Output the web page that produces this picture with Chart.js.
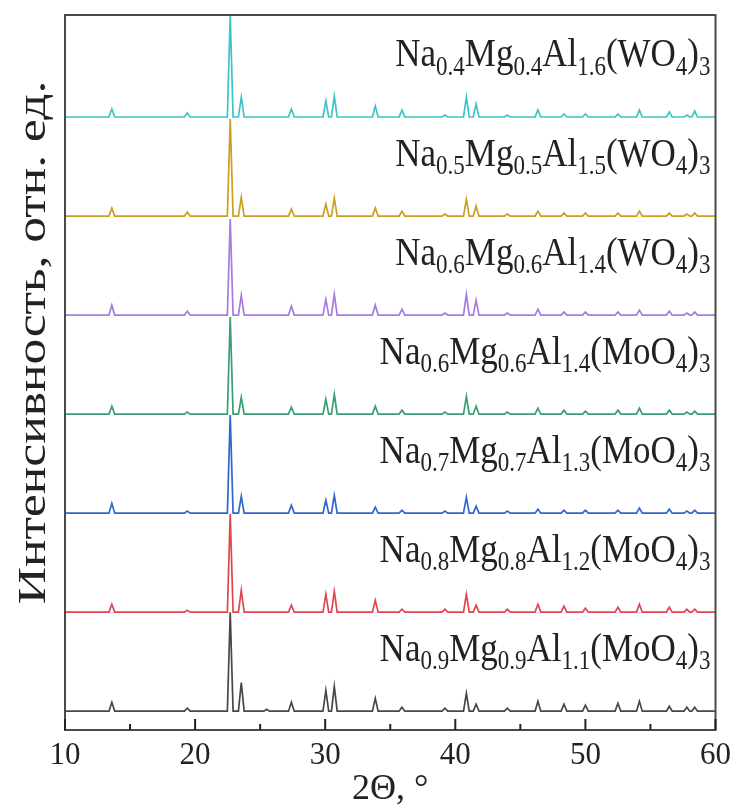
<!DOCTYPE html>
<html><head><meta charset="utf-8">
<script src="https://cdn.jsdelivr.net/npm/chart.js@4/dist/chart.umd.min.js"></script>
<style>html,body{margin:0;padding:0;background:#fff}#wrap{width:738px;height:811px}</style>
</head><body><div id="wrap"><canvas id="c" width="738" height="811"></canvas></div>
<script>
// 2θ positions of the reflections (deg)
const peakPositions = [13.6, 19.4, 22.7, 23.55, 25.5, 27.4, 30.05, 30.7, 33.85, 35.9, 39.2, 40.85, 41.6, 44.0, 46.35, 48.35, 50.0, 52.5, 54.15, 56.45, 57.8, 58.4];
// relative intensities (strongest = 1), bottom series first
const hNa09 = [0.09, 0.03, 1.00, 0.29, 0.02, 0.09, 0.21, 0.25, 0.13, 0.04, 0.03, 0.18, 0.07, 0.03, 0.10, 0.07, 0.06, 0.08, 0.10, 0.05, 0.04, 0.04];
const hNa08 = [0.08, 0.02, 0.99, 0.22, 0.00, 0.07, 0.18, 0.21, 0.12, 0.03, 0.03, 0.18, 0.07, 0.03, 0.08, 0.06, 0.04, 0.05, 0.08, 0.05, 0.03, 0.03];
const hNa07 = [0.10, 0.02, 0.99, 0.17, 0.00, 0.08, 0.13, 0.18, 0.06, 0.03, 0.02, 0.16, 0.07, 0.02, 0.04, 0.03, 0.03, 0.03, 0.05, 0.04, 0.02, 0.03];
const hNa06Mo = [0.08, 0.02, 0.98, 0.17, 0.00, 0.07, 0.15, 0.20, 0.08, 0.04, 0.02, 0.18, 0.08, 0.02, 0.06, 0.04, 0.03, 0.04, 0.06, 0.04, 0.02, 0.03];
const hNa06W = [0.10, 0.04, 0.97, 0.20, 0.00, 0.09, 0.16, 0.21, 0.10, 0.06, 0.02, 0.21, 0.15, 0.02, 0.06, 0.03, 0.03, 0.03, 0.05, 0.04, 0.02, 0.03];
const hNa05W = [0.08, 0.04, 0.98, 0.19, 0.00, 0.07, 0.12, 0.18, 0.08, 0.05, 0.02, 0.17, 0.10, 0.02, 0.05, 0.03, 0.03, 0.03, 0.05, 0.03, 0.02, 0.03];
const hNa04W = [0.08, 0.04, 1.03, 0.20, 0.00, 0.08, 0.16, 0.21, 0.11, 0.07, 0.02, 0.20, 0.13, 0.02, 0.07, 0.03, 0.03, 0.03, 0.07, 0.05, 0.02, 0.06];
const seriesHeights = [hNa09, hNa08, hNa07, hNa06Mo, hNa06W, hNa05W, hNa04W];
const seriesColors = ['#474747', '#e0474c', '#2f66cf', '#3a9e72', '#a77be0', '#c9a022', '#3cc4c6'];
// label pieces: [normal, subscript, normal, subscript, ...]
const seriesLabels = [
  ['Na','0.9','Mg','0.9','Al','1.1','(MoO','4',')','3'],
  ['Na','0.8','Mg','0.8','Al','1.2','(MoO','4',')','3'],
  ['Na','0.7','Mg','0.7','Al','1.3','(MoO','4',')','3'],
  ['Na','0.6','Mg','0.6','Al','1.4','(MoO','4',')','3'],
  ['Na','0.6','Mg','0.6','Al','1.4','(WO','4',')','3'],
  ['Na','0.5','Mg','0.5','Al','1.5','(WO','4',')','3'],
  ['Na','0.4','Mg','0.4','Al','1.6','(WO','4',')','3']
];
const xMajorTicks = [10, 20, 30, 40, 50, 60];
const xMinorTicks = [15, 25, 35, 45, 55];
const xTitle = '2\u0398, \u00b0';
const yTitle = '\u0418\u043d\u0442\u0435\u043d\u0441\u0438\u0432\u043d\u043e\u0441\u0442\u044c, \u043e\u0442\u043d. \u0435\u0434.';

const SERIF = '"Liberation Serif", "DejaVu Serif", serif';
const halfWidth = 0.22;

function buildSeries(heights, offset) {
  const pts = [{x: 10, y: offset}];
  peakPositions.forEach((p, i) => {
    const h = heights[i];
    if (h <= 0) return;
    pts.push({x: p - halfWidth, y: offset});
    pts.push({x: p, y: offset + h});
    pts.push({x: p + halfWidth, y: offset});
  });
  pts.push({x: 60, y: offset});
  return pts;
}

const datasets = seriesHeights.map((h, i) => ({
  data: buildSeries(h, i),
  borderColor: seriesColors[i],
  borderWidth: 1.7,
  pointRadius: 0,
  tension: 0,
  fill: false
}));

const decorPlugin = {
  id: 'decor',
  afterDatasetsDraw(chart) {
    const ctx = chart.ctx;
    const a = chart.chartArea;
    const xs = chart.scales.x, ys = chart.scales.y;
    ctx.save();
    // box
    ctx.strokeStyle = '#4a4a4a';
    ctx.lineWidth = 2;
    ctx.strokeRect(a.left, a.top, a.right - a.left, a.bottom - a.top);
    // inward ticks
    ctx.lineWidth = 2;
    ctx.strokeStyle = '#222';
    ctx.beginPath();
    xMajorTicks.forEach(v => { const px = xs.getPixelForValue(v); ctx.moveTo(px, a.bottom); ctx.lineTo(px, a.bottom - 11); });
    xMinorTicks.forEach(v => { const px = xs.getPixelForValue(v); ctx.moveTo(px, a.bottom); ctx.lineTo(px, a.bottom - 6); });
    ctx.stroke();
    // labels
    const mainFont = '35px ' + SERIF, subFont = '23px ' + SERIF;
    seriesLabels.forEach((parts, i) => {
      const yb = ys.getPixelForValue(i + 0.51);
      const xr = a.right - 5;
      let w = 0;
      parts.forEach((t, k) => { ctx.font = k % 2 ? subFont : mainFont; w += ctx.measureText(t).width; });
      ctx.save();
      ctx.translate(xr - w, yb);
      ctx.scale(1, 1.17);
      ctx.fillStyle = '#222';
      ctx.textAlign = 'left';
      ctx.textBaseline = 'alphabetic';
      let x = 0;
      parts.forEach((t, k) => {
        ctx.font = k % 2 ? subFont : mainFont;
        ctx.fillText(t, x, k % 2 ? 7 : 0);
        x += ctx.measureText(t).width;
      });
      ctx.restore();
    });
    // y title
    ctx.save();
    ctx.translate(35, (a.top + a.bottom) / 2 - 30);
    ctx.rotate(-Math.PI / 2);
    ctx.scale(1.32, 1);
    ctx.font = '39px ' + SERIF;
    ctx.fillStyle = '#222';
    ctx.textAlign = 'center';
    ctx.textBaseline = 'middle';
    ctx.fillText(yTitle, 0, 0);
    ctx.restore();
    ctx.restore();
  }
};

new Chart(document.getElementById('c'), {
  type: 'line',
  data: { datasets },
  options: {
    responsive: false,
    animation: false,
    layout: { padding: { left: 0, right: 22, top: 15, bottom: 0 } },
    plugins: { legend: { display: false }, tooltip: { enabled: false } },
    scales: {
      x: {
        type: 'linear', min: 10, max: 60,
        afterFit(s) { s.height = 81; },
        afterBuildTicks(s) { s.ticks = xMajorTicks.map(v => ({value: v})); },
        ticks: { font: { family: SERIF, size: 31 }, color: '#222', padding: 7, maxRotation: 0 },
        grid: { display: false, drawTicks: false },
        border: { display: false },
        title: { display: true, text: xTitle, font: { family: SERIF, size: 36 }, color: '#222', padding: { top: 0, bottom: 0 } }
      },
      y: {
        min: -0.19, max: 7.03,
        afterFit(s) { s.width = 65; },
        ticks: { display: false },
        grid: { display: false, drawTicks: false },
        border: { display: false }
      }
    }
  },
  plugins: [decorPlugin]
});
</script>
</body></html>
